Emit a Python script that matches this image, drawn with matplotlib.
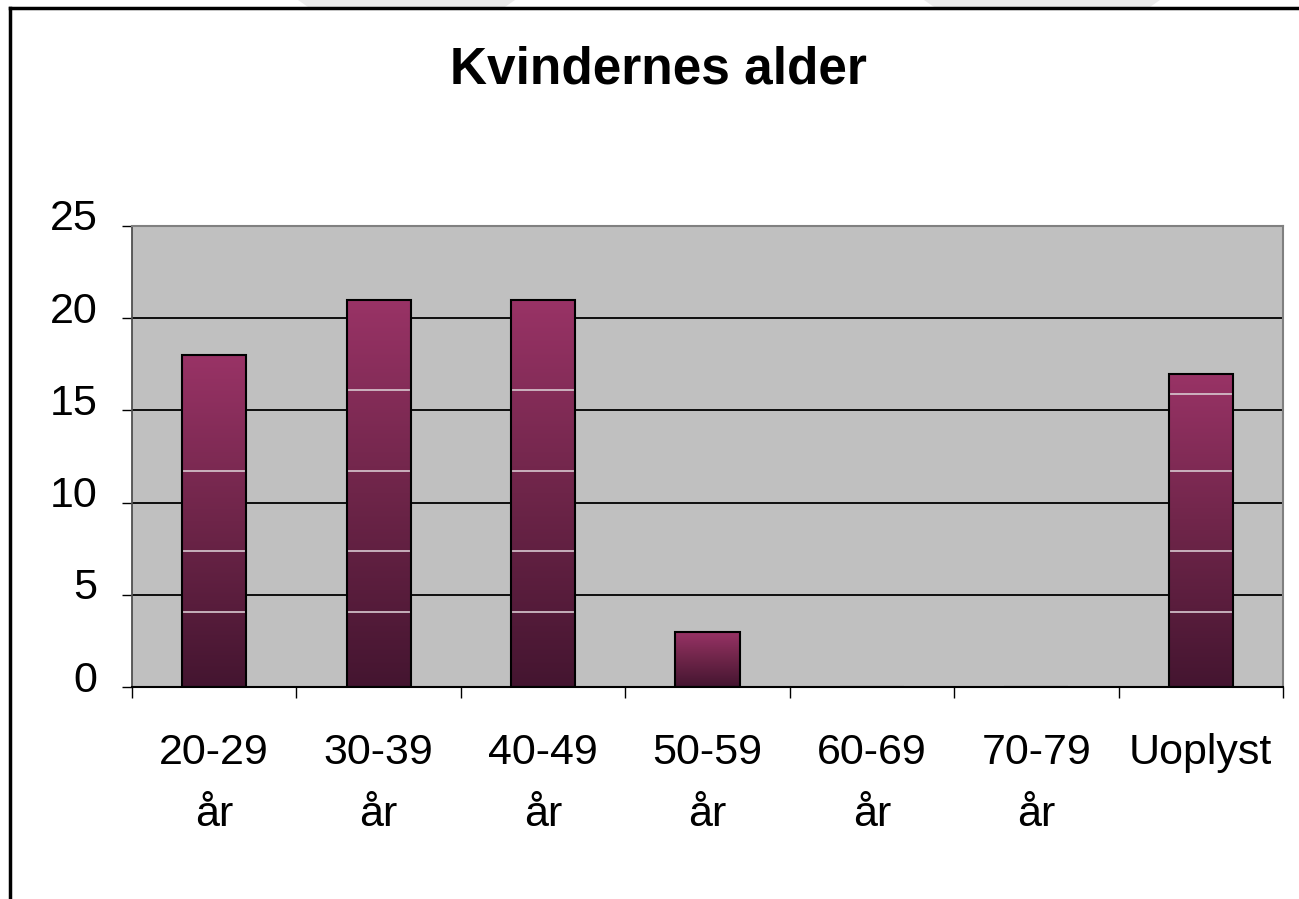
import matplotlib
matplotlib.use("Agg")
import matplotlib.pyplot as plt
import numpy as np
from matplotlib.colors import LinearSegmentedColormap
from matplotlib.patches import Polygon
from matplotlib.transforms import ScaledTranslation

# data
categories = ["20-29\når", "30-39\når", "40-49\når", "50-59\når", "60-69\når", "70-79\når", "Uoplyst"]
counts = [18, 21, 21, 3, 0, 0, 17]
y_ticks = [0, 5, 10, 15, 20, 25]
# white banding lines seen inside each bar (rendering artefact of the original)
band_levels = [[4.05, 7.37, 11.72], [4.05, 7.37, 11.72, 16.1], [4.05, 7.37, 11.72, 16.1],
               [], [], [], [4.05, 7.37, 11.72, 15.9]]

plt.rcParams["font.family"] = ["Liberation Sans", "DejaVu Sans"]

fig = plt.figure(figsize=(12.99, 8.99), dpi=100)
ax = fig.add_axes([132 / 1299, 1 - 687 / 899, (1283 - 132) / 1299, (687 - 226) / 899])
ax.set_facecolor("#C0C0C0")

# background shapes peeking at the top
for xs in [(298, 515, 505, 308), (924, 1160, 1150, 934)]:
    pts = [(xs[0] / 1299, 1.0), (xs[1] / 1299, 1.0), (xs[2] / 1299, 1 - 7 / 899), (xs[3] / 1299, 1 - 7 / 899)]
    fig.add_artist(Polygon(pts, closed=True, transform=fig.transFigure, facecolor="#EBEBEB", edgecolor="none"))

# frame around the chart
fig.add_artist(plt.Line2D([10 / 1299, 1.0], [1 - 8 / 899, 1 - 8 / 899], transform=fig.transFigure, color="black", lw=2.5))
fig.add_artist(plt.Line2D([10 / 1299, 10 / 1299], [0, 1 - 8 / 899], transform=fig.transFigure, color="black", lw=2.5))

cmap = LinearSegmentedColormap.from_list("plum", ["#441530", "#6E2549", "#993366"])
x = np.arange(len(categories)) + 0.5
width = 0.39

ax.set_xlim(0, len(categories))
ax.set_ylim(0, 25)

for i in range(1, 5):
    ax.axhline(y_ticks[i], color="black", lw=1.3, zorder=1)

bars = ax.bar(x, counts, width=width, color="none", edgecolor="black", lw=1.5, zorder=3)
grad = np.linspace(0, 1, 256).reshape(-1, 1)
for b, h, levels in zip(bars, counts, band_levels):
    if h <= 0:
        continue
    x0 = b.get_x()
    im = ax.imshow(grad, cmap=cmap, origin="lower", aspect="auto",
                   extent=[x0, x0 + width, 0, h], zorder=2)
    im.set_clip_path(b)
    for lev in levels:
        ax.plot([x0, x0 + width], [lev, lev], color="#D8C8D0", lw=1.2, zorder=2.5)

ax.set_yticks(y_ticks)
ax.set_yticklabels([str(v) for v in y_ticks], fontsize=31)
ax.tick_params(axis="y", length=7, width=1, color="black", pad=18)
for lab in ax.get_yticklabels():
    lab.set_transform(lab.get_transform() + ScaledTranslation(0, 0.11, fig.dpi_scale_trans))

ax.set_xticks(x)
ax.set_xticklabels(categories, fontsize=31, linespacing=1.73, va="top")
ax.tick_params(axis="x", which="major", length=0, pad=33)
ax.set_xticks(np.arange(len(categories) + 1), minor=True)
ax.tick_params(axis="x", which="minor", length=8, width=1, color="black")

for s in ["top", "right"]:
    ax.spines[s].set_color("#808080")
    ax.spines[s].set_linewidth(1.5)
ax.spines["left"].set_color("#505050")
ax.spines["left"].set_linewidth(1.3)
ax.spines["bottom"].set_color("black")
ax.spines["bottom"].set_linewidth(1.5)

fig.text(658 / 1299, 1 - 70 / 899, "Kvindernes alder", ha="center", va="center",
         fontsize=37, fontweight="bold")

fig.savefig("out.png", dpi=100)
